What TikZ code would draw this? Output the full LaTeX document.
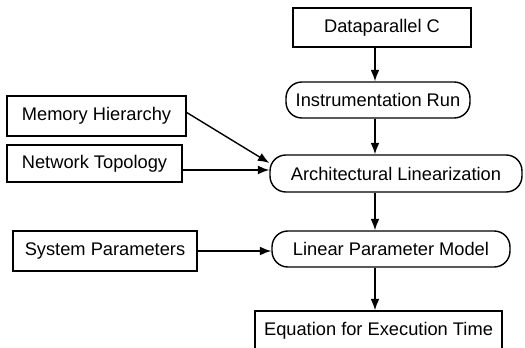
\documentclass[tikz,border=0pt]{standalone}
\usepackage{fontspec}
\setmainfont{Liberation Sans}
\usetikzlibrary{arrows.meta}

\tikzset{
  plainbox/.style={draw, line width=0.8pt, inner sep=0pt, font=\fontsize{10.4}{12}\selectfont},
  roundbox/.style={plainbox, rounded corners=9pt},
  flow/.style={line width=0.8pt, -{Latex[length=6.5pt,width=5pt]}}
}

\begin{document}
\begin{tikzpicture}[x=0.02cm, y=-0.02cm]
\useasboundingbox (0,0) rectangle (525,348);
\clip (0,0) rectangle (525,348);
\node[plainbox, minimum width=3.56cm, minimum height=0.78cm] (dpc) at (382,27.5) {Dataparallel C};
\node[roundbox, minimum width=3.68cm, minimum height=0.72cm] (ir) at (378,100) {Instrumentation Run};
\node[roundbox, minimum width=5.04cm, minimum height=0.74cm] (al) at (396,173.5) {Architectural Linearization};
\node[plainbox, minimum width=3.58cm, minimum height=0.80cm] (mh) at (96.5,116) {Memory Hierarchy};
\node[plainbox, minimum width=3.50cm, minimum height=0.74cm] (nt) at (94.5,163.5) {Network Topology};
\node[plainbox, minimum width=3.68cm, minimum height=0.80cm] (sp) at (105,251) {System Parameters};
\node[roundbox, minimum width=4.76cm, minimum height=0.72cm] (lpm) at (391,249) {Linear Parameter Model};
\node[plainbox, minimum width=4.94cm, minimum height=0.80cm] (eq) at (378.5,331) {Equation for Execution Time};
\coordinate (spine) at (375,0);
\coordinate (mhin) at ([yshift=6pt]al.west);
\coordinate (ntin) at ([yshift=2pt]al.west);
\draw[flow] (dpc.south -| spine) -- (ir.north -| spine);
\draw[flow] (ir.south -| spine) -- (al.north -| spine);
\draw[flow] (al.south -| spine) -- (lpm.north -| spine);
\draw[flow] (lpm.south -| spine) -- (eq.north -| spine);
\draw[flow] ([yshift=2pt]mh.east) -- (mhin);
\draw[flow] (nt.east |- ntin) -- (ntin);
\draw[flow] (sp.east) -- (sp.east -| lpm.west);
\end{tikzpicture}
\end{document}
